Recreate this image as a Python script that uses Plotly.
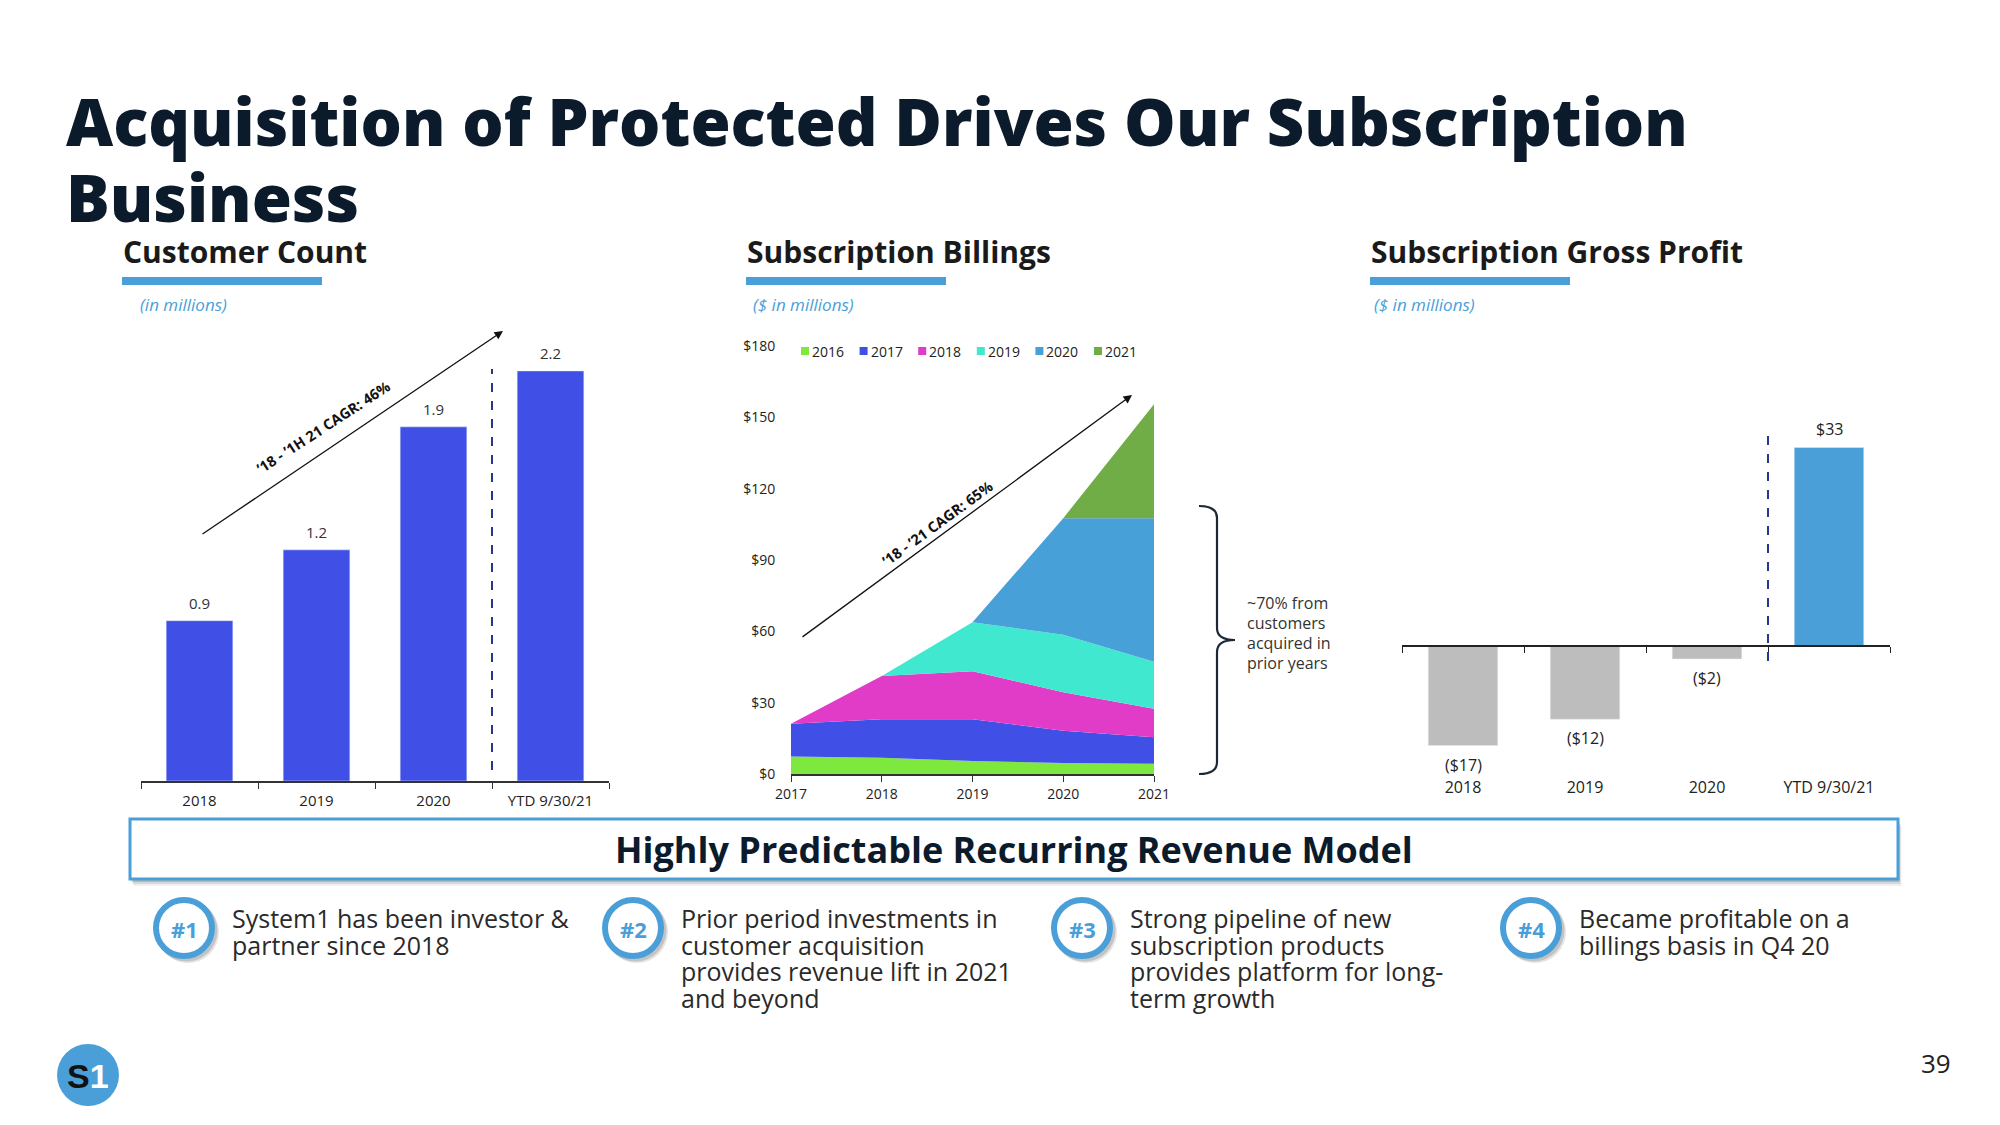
import plotly.graph_objects as go

# ---------------- data ----------------
cust_cats = ["2018", "2019", "2020", "YTD 9/30/21"]
cust_vals = [0.86, 1.24, 1.90, 2.20]
cust_labels = ["0.9", "1.2", "1.9", "2.2"]

bill_years = [2017, 2018, 2019, 2020, 2021]
cohort_names = ["2016", "2017", "2018", "2019", "2020", "2021"]
c2016 = [7.4, 6.8, 5.5, 4.6, 4.3]
c2017 = [13.7, 16.2, 17.5, 13.6, 11.2]
c2018 = [0, 18.2, 20.2, 16.2, 11.9]
c2019 = [0, 0, 20.6, 24.2, 19.8]
c2020 = [0, 0, 0, 49.0, 60.4]
c2021 = [0, 0, 0, 0, 47.9]
cohort_vals = [c2016, c2017, c2018, c2019, c2020, c2021]
cohort_colors = ["#7FE83F", "#4050E6", "#E03CC8", "#40E8D0", "#48A0D8", "#70AD47"]
bill_ticks = [0, 30, 60, 90, 120, 150, 180]

gp_cats = ["2018", "2019", "2020", "YTD 9/30/21"]
gp_vals = [-16.6, -12.2, -2.1, 33.3]
gp_labels = ["($17)", "($12)", "($2)", "$33"]

bullets = [
    ("#1", ["System1 has been investor &", "partner since 2018"]),
    ("#2", ["Prior period investments in", "customer acquisition",
            "provides revenue lift in 2021", "and beyond"]),
    ("#3", ["Strong pipeline of new", "subscription products",
            "provides platform for long-", "term growth"]),
    ("#4", ["Became profitable on a", "billings basis in Q4 20"]),
]

# ---------------- helpers ----------------
W, H = 2000, 1125
FONT = "Open Sans, Noto Sans, sans-serif"
ACCENT = "#4A9FD8"
NAVY = "#0C1B2B"
DASH = "#28368F"


def fx(p):
    return p / W


def fy(p):
    return 1 - p / H


fig = go.Figure()

# Customer count bars
fig.add_trace(go.Bar(x=cust_cats, y=cust_vals, marker_color="#4050E6",
                     width=0.57, xaxis="x", yaxis="y", showlegend=False,
                     hoverinfo="skip"))

# Subscription billings stacked areas
for name, vals, col in zip(cohort_names, cohort_vals, cohort_colors):
    fig.add_trace(go.Scatter(x=bill_years, y=vals, name=name, stackgroup="bill",
                             mode="none", fillcolor=col, xaxis="x2", yaxis="y2",
                             showlegend=False, hoverinfo="skip"))

# Gross profit bars
fig.add_trace(go.Bar(x=gp_cats, y=gp_vals,
                     marker_color=["#BDBDBD" if v < 0 else ACCENT for v in gp_vals],
                     width=0.57, xaxis="x3", yaxis="y3", showlegend=False,
                     hoverinfo="skip"))
# carrier trace for the zero-line axis
fig.add_trace(go.Scatter(x=[-0.5, 3.5], y=[0, 0], mode="lines",
                         line=dict(width=0), opacity=0, xaxis="x4", yaxis="y3",
                         showlegend=False, hoverinfo="skip"))

gp_range = [-21.7, 40]
gp_dom = [fy(776), fy(407.5)]
zero_pos = gp_dom[0] + (0 - gp_range[0]) / (gp_range[1] - gp_range[0]) * (gp_dom[1] - gp_dom[0])

tickfont = dict(family=FONT, size=15, color="#222")

fig.update_layout(
    width=W, height=H, margin=dict(l=0, r=0, t=0, b=0, pad=0, autoexpand=False),
    paper_bgcolor="white", plot_bgcolor="white", showlegend=False,
    font=dict(family=FONT, color="#222"),
    xaxis=dict(domain=[fx(141), fx(609)], anchor="y", type="category",
               range=[-0.5, 3.5], showline=True, linecolor="#333", linewidth=1.5,
               ticks="outside", tickson="boundaries", ticklen=6, tickcolor="#333",
               ticklabelstandoff=5,
               tickfont=tickfont, showgrid=False, automargin=False),
    yaxis=dict(domain=[fy(781), fy(315)], anchor="x", range=[0, 2.5], visible=False),
    xaxis2=dict(domain=[fx(791), fx(1154)], anchor="y2", range=[2017, 2021],
                tickvals=bill_years, showline=True, linecolor="#333", linewidth=1.5,
                ticks="outside", ticklen=6, tickcolor="#333",
                tickfont=dict(family=FONT, size=14, color="#222"),
                showgrid=False, zeroline=False, automargin=False),
    yaxis2=dict(domain=[fy(774), fy(346)], anchor="x2", range=[0, 180],
                tickvals=bill_ticks,
                ticktext=["$" + str(v) for v in bill_ticks], showline=False,
                showgrid=False, zeroline=False, ticks="outside", ticklen=12,
                tickcolor="rgba(0,0,0,0)", automargin=False,
                tickfont=dict(family=FONT, size=14, color="#222")),
    xaxis3=dict(domain=[fx(1402), fx(1890)], anchor="y3", type="category",
                range=[-0.5, 3.5], showline=False, ticks="", automargin=False,
                tickfont=dict(family=FONT, size=16, color="#222"), showgrid=False),
    yaxis3=dict(domain=gp_dom, anchor="x3", range=gp_range, visible=False),
    xaxis4=dict(overlaying="x3", anchor="free", position=zero_pos,
                range=[-0.5, 3.5], tickvals=[-0.5, 0.5, 1.5, 2.5, 3.5],
                showticklabels=False, ticks="outside", ticklen=6, tickcolor="#222",
                showline=True, linecolor="#222", linewidth=1.5, automargin=False,
                showgrid=False, zeroline=False),
)

ann = []
shapes = []

# Title
for txt, yy in [("Acquisition of Protected Drives Our Subscription", 121), ("Business", 197)]:
    ann.append(dict(text=txt, x=fx(64), y=fy(yy), xref="paper", yref="paper",
                    xanchor="left", yanchor="middle", showarrow=False,
                    font=dict(family=FONT, size=65, color=NAVY, weight=800)))

# Section headers
sections = [("Customer Count", 123, "(in millions)", 138),
            ("Subscription Billings", 747, "($ in millions)", 751),
            ("Subscription Gross Profit", 1371, "($ in millions)", 1372)]
for title, x0, sub, sx in sections:
    ann.append(dict(text=title, x=fx(x0 - 2), y=fy(252), xref="paper", yref="paper",
                    xanchor="left", yanchor="middle", showarrow=False,
                    font=dict(family=FONT, size=30, color="#1A1A1A", weight="bold")))
    shapes.append(dict(type="rect", xref="paper", yref="paper",
                       x0=fx(x0 - 1), x1=fx(x0 + 199), y0=fy(285), y1=fy(277),
                       fillcolor=ACCENT, line=dict(width=0)))
    ann.append(dict(text="<i>" + sub + "</i>", x=fx(sx), y=fy(305), xref="paper",
                    yref="paper", xanchor="left", yanchor="middle", showarrow=False,
                    font=dict(family=FONT, size=17, color=ACCENT)))

# Customer value labels (category index positions)
for i, (v, t) in enumerate(zip(cust_vals, cust_labels)):
    ann.append(dict(text=t, x=i, y=v, xref="x", yref="y", yshift=18,
                    yanchor="middle", showarrow=False,
                    font=dict(family=FONT, size=15, color="#333")))

# GP value labels
for i, (v, t) in enumerate(zip(gp_vals, gp_labels)):
    ann.append(dict(text=t, x=i, y=v, xref="x3", yref="y3",
                    yshift=19 if v > 0 else -19, yanchor="middle", showarrow=False,
                    font=dict(family=FONT, size=16, color="#222")))

# dashed separators
shapes.append(dict(type="line", xref="x", yref="paper", x0=2.5, x1=2.5,
                   y0=fy(770), y1=fy(369), line=dict(color=DASH, width=2, dash="dash")))
shapes.append(dict(type="line", xref="x3", yref="paper", x0=2.5, x1=2.5,
                   y0=fy(661), y1=fy(428), line=dict(color=DASH, width=2, dash="dash")))

# CAGR arrows
for (hx, hy, tx, ty, txt, cx, cy, ang) in [
        (503, 331, 201, 535, "’18 - ’1H 21 CAGR: 46%", 323, 428, -33),
        (1132, 395, 801, 638, "’18 - ’21 CAGR: 65%", 937, 523, -36)]:
    ann.append(dict(x=fx(hx), y=fy(hy), xref="paper", yref="paper", text="",
                    showarrow=True, ax=tx - hx, ay=ty - hy, arrowhead=2,
                    arrowsize=1.3, arrowwidth=1.3, arrowcolor="#111", standoff=0))
    ann.append(dict(text="<b>" + txt + "</b>", x=fx(cx), y=fy(cy), xref="paper",
                    yref="paper", textangle=ang, showarrow=False,
                    xanchor="center", yanchor="middle",
                    font=dict(family=FONT, size=14.5, color="#111")))

# Billings legend
for i, (name, col) in enumerate(zip(cohort_names, cohort_colors)):
    lx = 801 + i * 58.6
    shapes.append(dict(type="rect", xref="paper", yref="paper",
                       x0=fx(lx), x1=fx(lx + 8), y0=fy(355), y1=fy(347),
                       fillcolor=col, line=dict(width=0)))
    ann.append(dict(text=name, x=fx(lx + 9), y=fy(351), xref="paper", yref="paper",
                    xanchor="left", yanchor="middle", showarrow=False,
                    font=dict(family=FONT, size=14, color="#222")))

# Bracket


def P(x, y):
    return f"{fx(x):.5f},{fy(y):.5f}"


path = (f"M {P(1199, 506)} Q {P(1217, 506)} {P(1217, 518)} L {P(1217, 628)} "
        f"Q {P(1217, 640)} {P(1235, 640)} Q {P(1217, 640)} {P(1217, 652)} "
        f"L {P(1217, 762)} Q {P(1217, 774)} {P(1199, 774)}")
shapes.append(dict(type="path", xref="paper", yref="paper", path=path,
                   line=dict(color="#1C2833", width=2.2)))
for i, line in enumerate(["~70% from", "customers", "acquired in", "prior years"]):
    ann.append(dict(text=line, x=fx(1245), y=fy(603 + 20 * i), xref="paper",
                    yref="paper", xanchor="left", yanchor="middle", showarrow=False,
                    font=dict(family=FONT, size=16, color="#333")))

# Banner
for off, alpha in [(7, 0.06), (5, 0.10), (3, 0.14)]:
    shapes.append(dict(type="rect", xref="paper", yref="paper",
                       x0=fx(130 + off / 2), x1=fx(1898 + off / 2),
                       y0=fy(879 + off), y1=fy(819 + off),
                       fillcolor=f"rgba(0,0,0,{alpha})", line=dict(width=0)))
shapes.append(dict(type="rect", xref="paper", yref="paper",
                   x0=fx(130), x1=fx(1898), y0=fy(879), y1=fy(819),
                   fillcolor="white", line=dict(color=ACCENT, width=3)))
ann.append(dict(text="Highly Predictable Recurring Revenue Model", x=fx(1014),
                y=fy(849), xref="paper", yref="paper", xanchor="center",
                yanchor="middle", showarrow=False,
                font=dict(family=FONT, size=36, color=NAVY, weight="bold")))

# Bullets
for i, (tag, lines) in enumerate(bullets):
    cx = 184 + i * 449
    cy = 928
    r = 28
    for off, alpha in [(4, 0.10), (2.5, 0.15)]:
        shapes.append(dict(type="circle", xref="paper", yref="paper",
                           x0=fx(cx - r - 3 + off), x1=fx(cx + r + 3 + off),
                           y0=fy(cy + r + 3 + off), y1=fy(cy - r - 3 + off),
                           fillcolor=f"rgba(0,0,0,{alpha})", line=dict(width=0)))
    shapes.append(dict(type="circle", xref="paper", yref="paper",
                       x0=fx(cx - r), x1=fx(cx + r), y0=fy(cy + r), y1=fy(cy - r),
                       fillcolor="white", line=dict(color=ACCENT, width=6)))
    ann.append(dict(text=tag, x=fx(cx), y=fy(cy + 1), xref="paper", yref="paper",
                    xanchor="center", yanchor="middle", showarrow=False,
                    font=dict(family=FONT, size=22, color=ACCENT, weight="bold")))
    for j, line in enumerate(lines):
        ann.append(dict(text=line, x=fx(cx + 46), y=fy(918 + 26.5 * j), xref="paper",
                        yref="paper", xanchor="left", yanchor="middle",
                        showarrow=False,
                        font=dict(family=FONT, size=25, color="#2A2A2A")))

# Logo
shapes.append(dict(type="circle", xref="paper", yref="paper",
                   x0=fx(57), x1=fx(119), y0=fy(1106), y1=fy(1044),
                   fillcolor=ACCENT, line=dict(width=0)))
ann.append(dict(text='<span style="color:#111">S</span><span style="color:#fff">1</span>',
                x=fx(88), y=fy(1076), xref="paper", yref="paper", xanchor="center",
                yanchor="middle", showarrow=False,
                font=dict(family="Liberation Sans, Arial, sans-serif", size=34,
                          weight="bold")))
# Page number
ann.append(dict(text="39", x=fx(1936), y=fy(1063), xref="paper", yref="paper",
                xanchor="center", yanchor="middle", showarrow=False,
                font=dict(family=FONT, size=26, color="#222")))

fig.update_layout(annotations=ann, shapes=shapes)
fig.write_html("out.html", config={"responsive": False, "displayModeBar": False},
               post_script="document.body.style.margin='0';"
                           "document.body.style.overflow='hidden';")
